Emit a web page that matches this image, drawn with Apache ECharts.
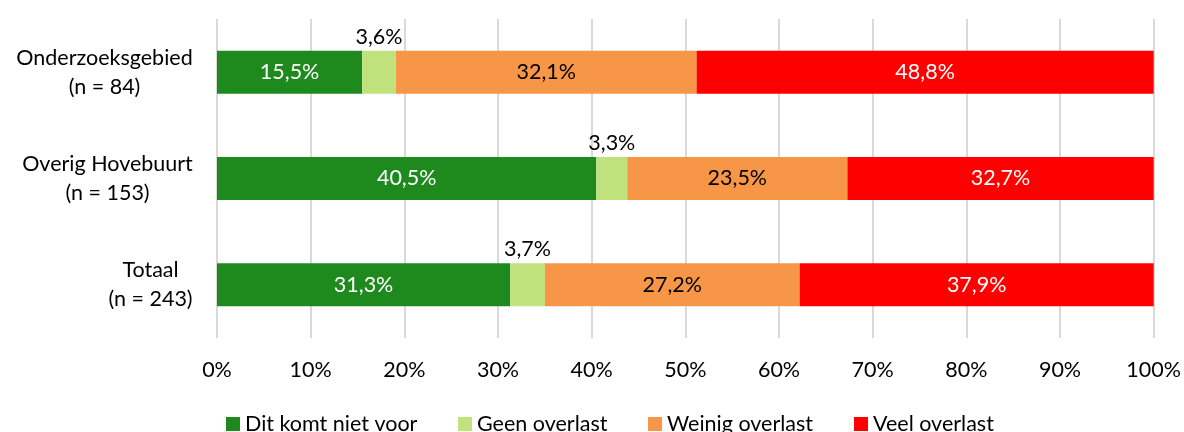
<!DOCTYPE html>
<html>
<head>
<meta charset="utf-8">
<script src="https://cdn.jsdelivr.net/npm/echarts@6/dist/echarts.min.js"></script>
<style>
  html, body { margin: 0; padding: 0; background: #fff; }
  #chart { width: 1184px; height: 432px; }
</style>
</head>
<body>
<div id="chart"></div>
<script>
var categories = ["Onderzoeksgebied\n(n = 84)", "Overig Hovebuurt\n(n = 153)", "Totaal\n(n = 243)"];
var seriesNames = ["Dit komt niet voor", "Geen overlast", "Weinig overlast", "Veel overlast"];
var nietVoor = [15.5, 40.5, 31.3];
var geen = [3.6, 3.3, 3.7];
var weinig = [32.1, 23.5, 27.2];
var veel = [48.8, 32.7, 37.9];
var colors = ["#1e8a1e", "#c0e27c", "#f79646", "#ff0000"];
var labelColors = ["#fff", "#000", "#000", "#fff"];
var legendLeft = [221, 453, 643, 849];

var FONT = "Lato";
var FS = 21.5;
var chart = echarts.init(document.getElementById("chart"), null, { renderer: "canvas" });

// breedte van elk categorie-label meten zodat de regels gecentreerd staan
var ctx = document.createElement("canvas").getContext("2d");
ctx.font = FS + "px " + FONT;
var rich = {};
categories.forEach(function (c, i) {
  var w = Math.max.apply(null, c.split("\n").map(function (l) { return ctx.measureText(l).width; }));
  rich["c" + i] = { width: Math.ceil(w), align: "center", fontSize: FS, fontFamily: FONT, color: "#000", lineHeight: 29 };
});

function pct(v) { return v.toFixed(1).replace(".", ",") + "%"; }

var allData = [nietVoor, geen, weinig, veel];
var series = allData.map(function (d, i) {
  return {
    name: seriesNames[i],
    type: "bar",
    stack: "total",
    barWidth: 43,
    data: d,
    itemStyle: { color: colors[i] },
    label: {
      show: true,
      position: i === 1 ? "top" : "inside",
      distance: 3,
      color: labelColors[i],
      fontSize: FS,
      fontFamily: FONT,
      formatter: function (p) { return pct(p.value); }
    }
  };
});

// een legenda per item, zodat de plaatsing overeenkomt
var legends = seriesNames.map(function (n, i) {
  return {
    left: legendLeft[i],
    top: 408,
    itemWidth: 14,
    itemHeight: 14,
    itemGap: 5,
    icon: "rect",
    textStyle: { fontSize: FS, fontFamily: FONT, color: "#000" },
    data: [n]
  };
});

chart.setOption({
  animation: false,
  textStyle: { fontFamily: FONT },
  grid: { left: 217, right: 29, top: 19, bottom: 94, containLabel: false },
  legend: legends,
  xAxis: {
    type: "value",
    min: 0,
    max: 100,
    interval: 10,
    axisLine: { show: false },
    axisTick: { show: false },
    splitLine: { show: true, lineStyle: { color: "#d9d9d9", width: 2 } },
    axisLabel: {
      margin: 21,
      fontSize: FS,
      fontFamily: FONT,
      color: "#000",
      formatter: "{value}%"
    }
  },
  yAxis: {
    type: "category",
    inverse: true,
    data: categories,
    axisLine: { show: false },
    axisTick: { show: false },
    axisLabel: {
      margin: 24,
      formatter: function (v, idx) {
        return v.split("\n").map(function (l) { return "{c" + idx + "|" + l + "}"; }).join("\n");
      },
      rich: rich
    }
  },
  series: series
});
</script>
</body>
</html>
